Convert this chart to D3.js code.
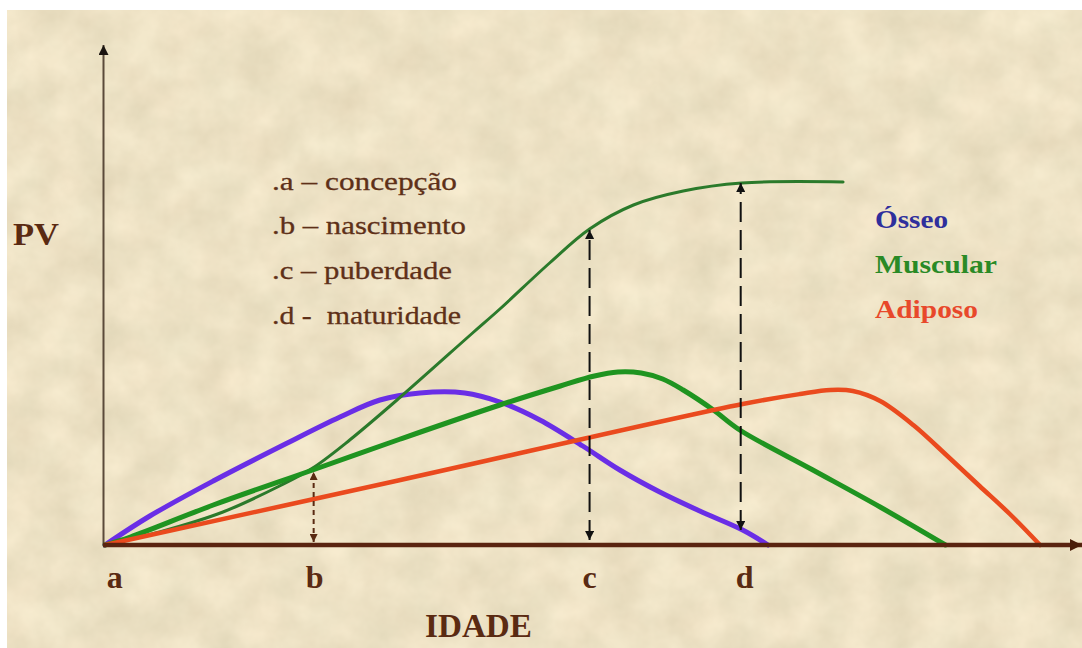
<!DOCTYPE html>
<html>
<head>
<meta charset="utf-8">
<script src="https://cdn.jsdelivr.net/npm/d3@7"></script>
<style>
  html, body { margin: 0; padding: 0; background: #ffffff; }
  svg { display: block; }
  text { white-space: pre; }
</style>
</head>
<body>
<svg id="chart" width="1082" height="648"></svg>
<script>
// ---------- DATA (idade units 0..100, PV units 0..100) ----------
const osseo = [
  [0,0],[4.6,5.8],[11.1,12.8],[18.7,20.4],[24.1,25.6],[28.2,29],[32.3,30.4],[36.9,30.4],
  [40.5,28.6],[44.6,25],[49,19.8],[52.8,15],[56.9,10.6],[61,6.8],[65.4,3],[68,0]
];
const muscular = [
  [0,0],[2.6,1.6],[11.1,8],[21.3,15],[30.3,21.2],[40.5,28],[46.7,31.8],[50.2,33.8],
  [52.6,34.6],[55,34.4],[57.2,33.2],[59.3,31],[62.4,27],[65.1,23],[72.6,15],[79.5,7.6],[86.2,0]
];
const adiposo = [
  [0,0],[30.3,13],[65.4,28.2],[71.3,30.2],[74.4,31],[76.7,30.8],[79.5,28.8],[82.9,24],
  [86.4,17.8],[89.7,11.8],[92.8,6.2],[95.9,0]
];
const pesoTotal = [
  [0,0],[5.6,2.6],[12.1,6.6],[17.9,11.8],[21.3,15.4],[25.1,21],[30.3,29.6],[37.7,42.4],
  [40.5,47.2],[45.6,56.4],[49.7,63.2],[54.2,68],[59.3,70.8],[65.3,72.4],[75.7,72.6]
];
// stage markers: idade, PV bottom, PV top
const stageArrows = [
  { x: 21.4, y0: 0.6, y1: 14.6, kind: "b" },
  { x: 49.7, y0: 1.0, y1: 63.0, kind: "c" },
  { x: 65.2, y0: 3.0, y1: 72.4, kind: "d" }
];
const stageTickAges = [1.0, 21.5, 49.7, 65.6];
const stageTickLabels = ["a", "b", "c", "d"];
const stageNotes = [".a \u2013 concep\u00e7\u00e3o", ".b \u2013 nascimento", ".c \u2013 puberdade", ".d -  maturidade"];
const seriesNames = ["\u00d3sseo", "Muscular", "Adiposo"];
const seriesColors = ["#2f2f9c", "#2a8a26", "#e8482a"];

// ---------- SETUP ----------
const W = 1082, H = 648;
const svg = d3.select("#chart");
const x = d3.scaleLinear().domain([0, 100]).range([105, 1080]);
const y = d3.scaleLinear().domain([0, 100]).range([545, 45]);
const brown = "#5a2a12";

const defs = svg.append("defs");
const f = defs.append("filter").attr("id", "paper").attr("x", 0).attr("y", 0)
  .attr("width", "100%").attr("height", "100%")
  .attr("color-interpolation-filters", "sRGB");
f.append("feTurbulence").attr("type", "fractalNoise").attr("baseFrequency", "0.025")
  .attr("numOctaves", 4).attr("seed", 11).attr("result", "n");
f.append("feColorMatrix").attr("in", "n").attr("type", "matrix")
  .attr("values", "0.10 0.02 0 0 0.87  0.10 0 0 0 0.835  0.11 0 0 0 0.715  0 0 0 0 1");

function marker(id, color, w, h) {
  defs.append("marker").attr("id", id).attr("viewBox", "0 0 10 10")
    .attr("refX", 10).attr("refY", 5).attr("markerUnits", "userSpaceOnUse")
    .attr("markerWidth", w).attr("markerHeight", h).attr("orient", "auto-start-reverse")
    .append("path").attr("d", "M0,0 L10,5 L0,10 Z").attr("fill", color);
}
marker("arrBlack", "#111", 11, 9);
marker("arrBrown", brown, 9, 8);
marker("arrAxisY", "#1a1410", 12, 10);
marker("arrAxisX", "#4a1e0a", 12, 16);

// background
svg.append("rect").attr("x", 0).attr("y", 0).attr("width", W).attr("height", H).attr("fill", "#fff");
svg.append("rect").attr("x", 7).attr("y", 10).attr("width", W - 7).attr("height", H - 10)
  .attr("fill", "#eee0c2").attr("filter", "url(#paper)");

// y axis (vertical)
svg.append("line").attr("x1", 103.5).attr("x2", 103.5).attr("y1", y(0)).attr("y2", y(100))
  .attr("stroke", "#5b4a3a").attr("stroke-width", 2).attr("marker-end", "url(#arrAxisY)");

// ---------- CURVES ----------
const line = d3.line().x(d => x(d[0])).y(d => y(d[1])).curve(d3.curveCatmullRom.alpha(0.5));
const g = svg.append("g").attr("fill", "none").attr("stroke-linecap", "round").attr("stroke-linejoin", "round");
g.append("path").datum(osseo).attr("d", line).attr("stroke", "#6a2ee6").attr("stroke-width", 5);
g.append("path").datum(pesoTotal).attr("d", line).attr("stroke", "#2b7a2b").attr("stroke-width", 3);
g.append("path").datum(muscular).attr("d", line).attr("stroke", "#1f9420").attr("stroke-width", 5);
g.append("path").datum(adiposo).attr("d", line).attr("stroke", "#ea4a1e").attr("stroke-width", 4.5);

// x axis (horizontal)
svg.append("line").attr("x1", 103).attr("x2", x(100) + 2).attr("y1", y(0)).attr("y2", y(0))
  .attr("stroke", "#5a2410").attr("stroke-width", 4.5).attr("marker-end", "url(#arrAxisX)");

// stage arrows
svg.append("g").selectAll("line").data(stageArrows).join("line")
  .attr("x1", d => x(d.x)).attr("x2", d => x(d.x))
  .attr("y1", d => y(d.y0)).attr("y2", d => y(d.y1))
  .attr("stroke", d => d.kind === "b" ? brown : "#111")
  .attr("stroke-width", 2)
  .attr("stroke-dasharray", d => d.kind === "b" ? "5,4" : "20,8")
  .attr("marker-start", d => d.kind === "b" ? "url(#arrBrown)" : "url(#arrBlack)")
  .attr("marker-end", d => d.kind === "b" ? "url(#arrBrown)" : "url(#arrBlack)");

// tick labels a b c d
svg.append("g").selectAll("text").data(stageTickAges).join("text")
  .attr("x", d => x(d)).attr("y", 588).attr("text-anchor", "middle")
  .attr("font-family", "'Liberation Serif', 'Times New Roman', serif")
  .attr("font-weight", "bold").attr("font-size", 32).attr("fill", brown)
  .text((d, i) => stageTickLabels[i]);

// axis titles
svg.append("text").attr("x", 13).attr("y", 245)
  .attr("font-family", "'Liberation Serif', 'Times New Roman', serif")
  .attr("font-weight", "bold").attr("font-size", 32).attr("fill", brown)
  .attr("textLength", 46).attr("lengthAdjust", "spacingAndGlyphs").text("PV");
svg.append("text").attr("x", 425).attr("y", 637)
  .attr("font-family", "'Liberation Serif', 'Times New Roman', serif")
  .attr("font-weight", "bold").attr("font-size", 33).attr("fill", brown)
  .attr("textLength", 107).attr("lengthAdjust", "spacingAndGlyphs").text("IDADE");

// stage notes
const noteBase = [190, 234, 279, 324];
const noteLen = [185, 194, 180, 189];
svg.append("g").selectAll("text").data(stageNotes).join("text")
  .attr("x", 272).attr("y", (d, i) => noteBase[i])
  .attr("font-family", "'Liberation Serif', 'Times New Roman', serif")
  .attr("font-size", 26).attr("fill", "#5e3018")
  .attr("stroke", "#5e3018").attr("stroke-width", 0.3)
  .attr("textLength", (d, i) => noteLen[i]).attr("lengthAdjust", "spacingAndGlyphs")
  .text(d => d);

// series legend
const legBase = [228, 273, 318];
const legLen = [73, 122, 103];
svg.append("g").selectAll("text").data(seriesNames).join("text")
  .attr("x", 875).attr("y", (d, i) => legBase[i])
  .attr("font-family", "'Liberation Serif', 'Times New Roman', serif")
  .attr("font-weight", "bold").attr("font-size", 26)
  .attr("fill", (d, i) => seriesColors[i])
  .attr("textLength", (d, i) => legLen[i]).attr("lengthAdjust", "spacingAndGlyphs")
  .text(d => d);
</script>
</body>
</html>
